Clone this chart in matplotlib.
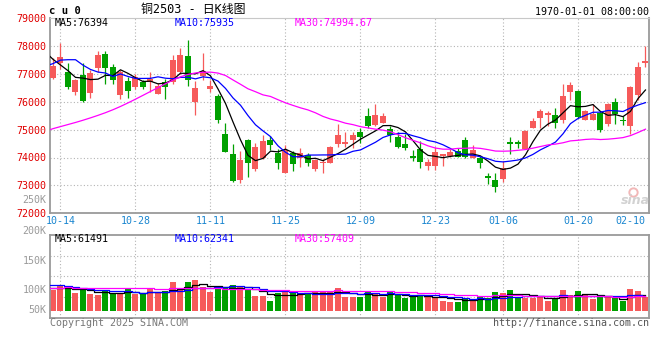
import matplotlib
matplotlib.use('Agg')
import matplotlib.pyplot as pl
import numpy as np

# daily bars of cu0, 2024-10-11 .. 2025-02-10
opens = [76860, 77390, 77060, 76350, 76940, 76310, 77200, 77710, 77240, 76250,
         76740, 76520, 76700, 76700, 76290, 76700, 76700, 77060, 77630, 76000,
         76920, 76470, 76200, 74860, 74140, 73190, 74640, 73570, 73990, 74640,
         74160, 73430, 74160, 73990, 74100, 73570, 73790, 73820, 74500, 74500,
         74640, 74900, 75490, 75180, 75240, 75020, 74740, 74500, 74070, 74310,
         73710, 73710, 74060, 74070, 74230, 74620, 73970, 73990, 73330, 73190,
         73230, 74560, 74540, 74300, 75040, 75400, 75540, 75520, 75330, 76350,
         76380, 75330, 75360, 75600, 75210, 75990, 75360, 75120, 76250, 77400]
highs = [77550, 78110, 77380, 76800, 77380, 77120, 77800, 77830, 77360, 77120,
         76880, 76980, 76790, 77060, 76680, 76820, 77690, 77920, 78210, 76740,
         77735, 76780, 76290, 75240, 74500, 74240, 74670, 74520, 74800, 74760,
         74320, 74460, 74240, 74340, 74160, 73960, 73960, 74400, 75210, 74920,
         74920, 75040, 75790, 75900, 75600, 75120, 74920, 74860, 74260, 74600,
         73960, 74360, 74140, 74290, 74350, 74740, 74440, 74050, 73450, 73430,
         73880, 74740, 74640, 74980, 75420, 75750, 75660, 75780, 76620, 76700,
         76430, 75690, 75900, 75660, 75950, 76140, 75500, 76580, 77420, 77980]
lows = [76820, 77170, 76460, 76250, 75990, 76140, 77060, 76640, 76640, 76110,
        76140, 76460, 76460, 76350, 76290, 76100, 76640, 76980, 76580, 75540,
        76780, 76360, 75240, 74200, 73110, 73070, 73310, 73510, 73930, 74280,
        73570, 73430, 73520, 73660, 73690, 73520, 73450, 73820, 74360, 74380,
        74330, 74520, 75060, 75130, 75240, 74550, 74330, 74260, 73880, 73640,
        73540, 73540, 73710, 74020, 74020, 73990, 73970, 73640, 73040, 72770,
        73130, 74140, 74330, 74300, 75040, 75040, 75120, 75060, 75240, 76070,
        75400, 75330, 75330, 74920, 75140, 75210, 75180, 74860, 76070, 77260]
closes = [77290, 77600, 76520, 76790, 76030, 77020, 77680, 77200, 76760, 77060,
          76380, 76900, 76520, 76820, 76580, 76520, 77500, 77680, 76790, 76500,
          77100, 76570, 75330, 74200, 73170, 73900, 73790, 74380, 74600, 74460,
          73790, 74260, 73750, 74160, 73790, 73900, 73830, 74380, 74800, 74560,
          74800, 74740, 75130, 75540, 75500, 74820, 74380, 74350, 73970, 73840,
          73840, 74200, 74120, 74200, 74020, 74020, 74260, 73790, 73270, 72930,
          73610, 74500, 74500, 74940, 75300, 75660, 75580, 75240, 76220, 76590,
          75450, 75660, 75570, 74980, 75900, 75570, 75300, 76520, 77260, 77450]
volumes = [83800, 100000, 100000, 72900, 83800, 67600, 63600, 83800, 67600, 72900,
           87900, 67600, 67600, 87900, 72900, 79800, 117400, 83800, 117400, 124300,
           97200, 77000, 93200, 94400, 104100, 94400, 83800, 60800, 60800, 39300,
           70100, 81000, 70100, 70100, 67600, 74100, 74100, 77000, 93200, 56700,
           56700, 56700, 79800, 67600, 56700, 79800, 63600, 52700, 53900, 59500,
           63600, 52700, 39300, 36500, 36500, 52700, 43300, 59500, 49800, 77000,
           72900, 83800, 53900, 52700, 52700, 56700, 39300, 47400, 83800, 63600,
           79800, 67600, 47400, 53900, 53900, 49800, 39300, 87900, 79800, 53900]

# the 30 sessions before the first bar, only there to warm up the averages
prev_closes = [74500, 75380, 74300, 74570, 73630, 74470, 74980, 74320, 73580, 73550,
               72540, 72910, 72380, 72680, 72440, 72380, 73510, 74170, 74240, 74930,
               76400, 76350, 76370, 76790, 77980, 78560, 78620, 77540, 77990, 76160]
prev_volumes = [85000, 82000, 85000, 78000, 90000, 86000, 80000, 92000, 84000, 88000,
                79000, 86000, 91000, 83000, 87000, 95000, 89000, 93000, 90000, 98000,
                94000, 105000, 120000, 125000, 118000, 107000, 98000, 102000, 95000, 86200]

date_pos = [1, 11, 21, 31, 41, 51, 60, 70, 79]
date_labels = ['10-14', '10-28', '11-11', '11-25', '12-09', '12-23', '01-06', '01-20', '02-10']
price_ticks = [72000, 73000, 74000, 75000, 76000, 77000, 78000, 79000]
vol_labels = ['250K', '200K', '150K', '100K', '50K']

price_legend = ['MA5:76394', 'MA10:75935', 'MA30:74994.67']
vol_legend = ['MA5:61491', 'MA10:62341', 'MA30:57409']

UP = '#f65a5a'
DOWN = '#00a000'
MA_COLORS = ['#000000', '#0000ff', '#ff00ff']
GRID = '#b4b4b4'
BORDER = '#9a9a9a'
W, H = 660.0, 360.0


def fx(px):
    return px / W


def fy(py):
    return 1 - py / H


def moving_average(values, prev, n):
    full = np.concatenate([prev, values]).astype(float)
    ma = np.convolve(full, np.ones(n) / n, mode='valid')
    x = np.arange(n - 1, len(full)) - len(prev)
    return x, ma


def dotted_grid(ax, ys):
    for y in ys:
        ax.axhline(y, color=GRID, lw=0.8, ls=(0, (1, 2)), zorder=0.5)
    for x in date_pos[:-1]:
        ax.axvline(x, color=GRID, lw=0.8, ls=(0, (1, 2)), zorder=0.5)


def style_frame(ax):
    for side in ['left', 'right', 'bottom', 'top']:
        ax.spines[side].set_color(BORDER)
        ax.spines[side].set_linewidth(1.3)
    ax.tick_params(length=0)


def main():
    pl.rcParams['font.family'] = 'DejaVu Sans Mono'
    pl.rcParams['font.size'] = 7.2

    o = np.array(opens, float)
    c = np.array(closes, float)
    x = np.arange(len(closes))
    colors = [UP if cc >= oo else DOWN for oo, cc in zip(o, c)]

    fig = pl.figure(figsize=(6.6, 3.6), dpi=100)
    ax = fig.add_axes([fx(50), fy(213.3), fx(599), 195.3 / H])
    axv = fig.add_axes([fx(50), fy(318), fx(599), 83.3 / H])

    # price panel
    ax.vlines(x, lows, highs, colors=colors, lw=0.9, zorder=2)
    body = np.maximum(np.abs(c - o), 30)
    ax.bar(x, body, bottom=np.minimum(o, c), width=0.8, color=colors,
           linewidth=0, zorder=3)
    for n, col in zip([5, 10, 30], MA_COLORS):
        mx, ma = moving_average(closes, prev_closes, n)
        ax.plot(mx, ma, color=col, lw=0.9, zorder=4)

    ax.set_xlim(-0.4, 79.47)
    ax.set_ylim(72000, 79000)
    dotted_grid(ax, price_ticks[1:-1])
    style_frame(ax)
    ax.spines['top'].set_color('#c8c8c8')
    ax.spines['top'].set_linewidth(0.8)
    ax.set_yticks(price_ticks)
    ax.set_yticklabels([str(t) for t in price_ticks])
    ax.tick_params(axis='y', colors='#e00000', pad=2.5)
    ax.set_xticks(date_pos)
    ax.set_xticklabels(date_labels)
    ax.tick_params(axis='x', colors='#1a86d0', pad=2.2)
    ax.get_xticklabels()[-1].set_horizontalalignment('right')

    # volume panel
    axv.bar(x, volumes, width=0.8, color=colors, linewidth=0, zorder=2)
    for n, col in zip([5, 10, 30], MA_COLORS):
        mx, ma = moving_average(volumes, prev_volumes, n)
        axv.plot(mx, ma, color=col, lw=0.9, drawstyle='steps-mid', zorder=3)
    vmin, vmax = -29600, 307800
    axv.set_xlim(-0.4, 79.47)
    axv.set_ylim(vmin, vmax)
    dotted_grid(axv, [vmin + f * (vmax - vmin) for f in (0.25, 0.5, 0.75)])
    style_frame(axv)
    axv.set_xticks([])
    axv.set_yticks([])

    for lab, py in zip(vol_labels, [200, 231, 260.7, 290.3, 310]):
        fig.text(fx(46.7), fy(py), lab, ha='right', va='center', color='#9a9a9a')

    # legends inside the panels
    for txt, px, col in zip(price_legend, [54.7, 174.3, 295], MA_COLORS):
        fig.text(fx(px), fy(23), txt, va='center', color=col)
    for txt, px, col in zip(vol_legend, [54.7, 175, 295], MA_COLORS):
        fig.text(fx(px), fy(238.5), txt, va='center', color=col)

    # header and footer
    fig.text(fx(49), fy(11), 'c u 0', va='center', fontsize=7.6, fontweight='bold')
    fig.text(fx(141), fy(10), '铜2503 - 日K线图', va='center', fontsize=8.6,
             family=['DejaVu Sans Mono', 'Noto Sans CJK SC'])
    fig.text(fx(649), fy(11.7), '1970-01-01 08:00:00', ha='right', va='center')
    fig.text(fx(50), fy(323.5), 'Copyright 2025 SINA.COM', va='center', color='#777777')
    fig.text(fx(649), fy(323.5), 'http://finance.sina.com.cn', ha='right', va='center',
             color='#555555')

    # faint sina watermark
    fig.text(fx(635), fy(201), 'sina', ha='center', va='center', fontsize=9,
             fontweight='bold', style='italic', color='#d2d2d2', family='DejaVu Sans')
    ax.plot([fx(633)], [fy(192)], 'o', ms=6, mfc='none', mec='#f2b8b8', mew=1.4,
            transform=fig.transFigure, clip_on=False)

    fig.savefig('out.png', dpi=100)


if __name__ == '__main__':
    main()
